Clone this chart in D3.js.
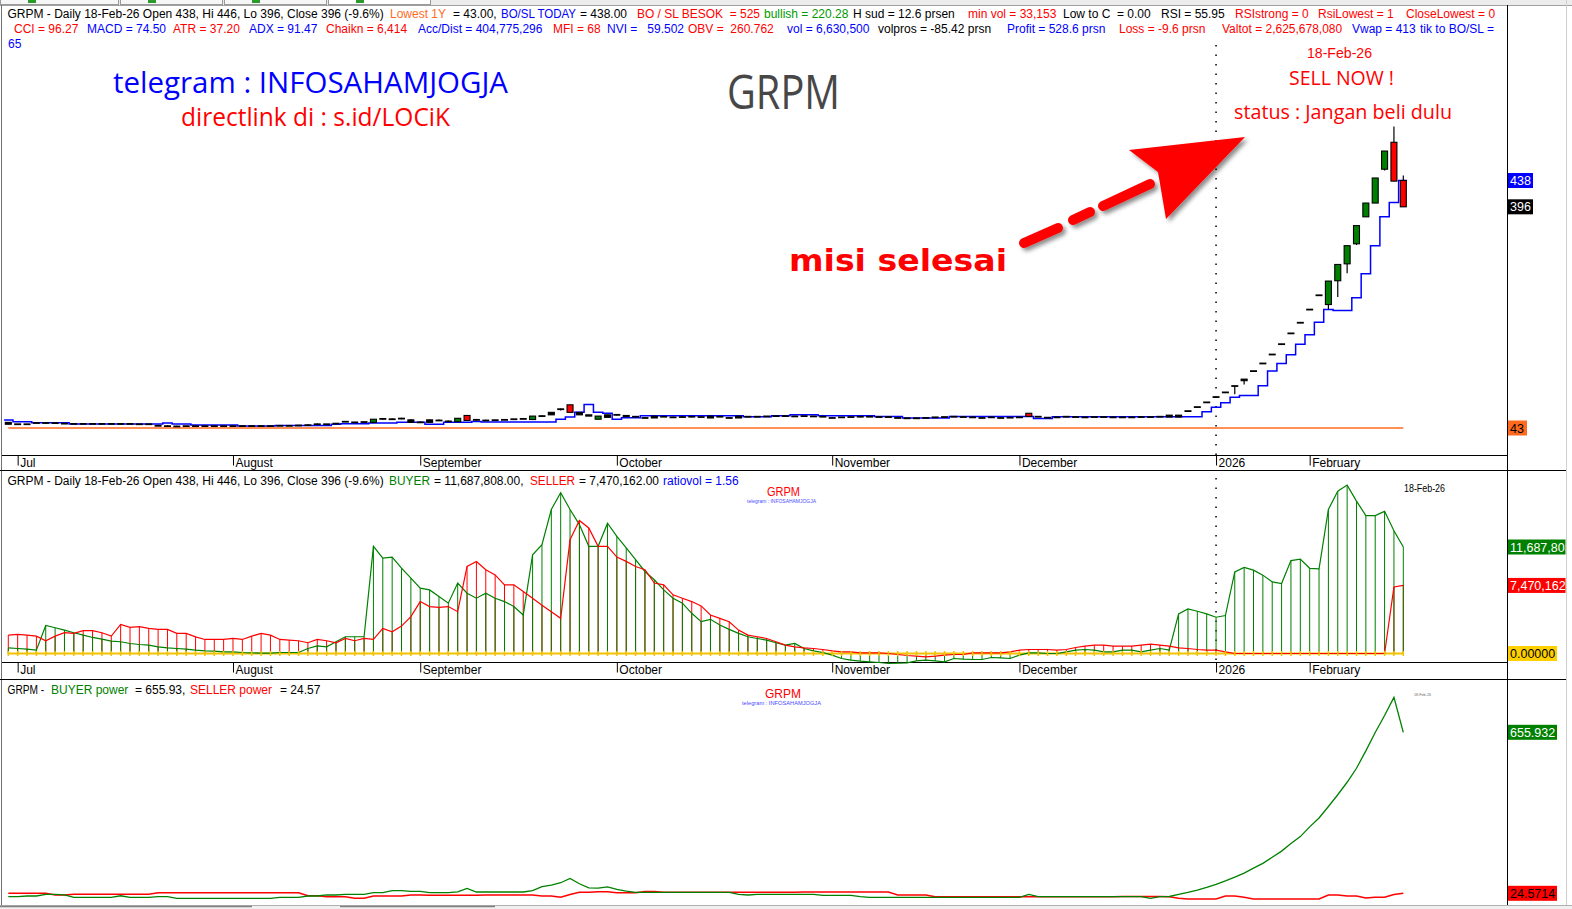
<!DOCTYPE html>
<html><head><meta charset="utf-8">
<script src="https://cdn.jsdelivr.net/npm/d3@7"></script>
<style>
body{margin:0;background:#fff;overflow:hidden}
svg{display:block;font-family:"Liberation Sans",Arial,sans-serif}
text{white-space:pre}
</style></head><body><svg id="c" width="1572" height="909"></svg>
<script>
// ---------- DATA ----------
const open=[52,49,49,51,51,51.5,50,49.5,49.5,49.5,
 49.5,49.5,49.5,49.5,49,49,48,47,46.5,46,
 46,46,46,46,46,46,46,46,46,46.5,
 46.5,47,49,49,49,50,53,52,52.5,52,
 57.5,57,58,56,52,52,55,55,53,63,
 56,55,55.5,57,57,57.5,56.5,62,64,73,
 80,68,64,57,60,64,63,61,60,59,
 62,61,62,61,60.5,59,62,60,59,61,
 61,61.5,62,62,62.5,62,61.5,61,60,60,
 60.5,61,61,60.5,60.5,60,59.5,59.5,59,60,
 60.5,61,60.5,60,60,60,60,59.5,59,66.5,
 61,60.5,60,61,61.5,61,60.5,60.5,61,60,
 60,60.5,60.5,61,63.5,60.5,70,76.4,83.9,92.4,
 99.8,110,121,133.8,146,160.3,176.8,194,211,232,
 254.8,240,278,305,337,380,402,456,499,438];
const close=[49,49,49,51,51,50.8,50,49.5,49.5,49.5,
 49.5,49.5,49.5,49.5,49,49,46.5,46,45.5,46,
 46,46,46,46,46,46,46,46,46,46.5,
 46.5,47,47.5,49,49,50,53,52,52.5,57,
 57.5,57,58,52,52,56,55,53.5,58.5,55,
 56,55,55.5,56,57,57.5,62,62,68,73,
 68,64,62,62,64,64,61,61,59,62,
 61,60,60.5,61,60.5,62,61,59,62,61,
 61,61.5,62,62,61.5,62,61.5,61,59,60,
 60.5,61,61,60.5,60.5,59,58.5,58.5,59,60,
 60.5,61,60.5,60,59,60,59,59.5,60,61.5,
 61,59.5,60,61,60.5,60,60.5,60.5,60,60,
 60,60.5,60.5,61,60.5,63.5,70,76.4,83.9,92.4,
 99.8,110,118.5,133.8,146,160.3,176.8,194,211,232,
 254.8,277.5,304,334,366,402,442,485,437,396];
const high=[52.5,49,49,51,52.5,52.5,50,49.5,49.5,49.5,
 49.5,49.5,51,49.5,49,49,48,47,46.5,46,
 46,46,46,46,46,46,46,46,46,46.5,
 46.5,47,49,50,49,50,53,52,52.5,57,
 59,58.5,59.5,57,53.5,56,56.5,55,58.5,63.5,
 57.5,56,55.5,57,57,57.5,62,63.5,68,74,
 80,68,64,62,64,65,63,61,60,62,
 62,61,62,62,60.5,62,62,60,62,61,
 61,61.5,63,63,62.5,62,61.5,61,60,60,
 60.5,62,61,60.5,60.5,60,59.5,59.5,59,60,
 60.5,61,60.5,60,60,60,60,59.5,60,66.5,
 61,60.5,60,61,61.5,61,60.5,60.5,61,60,
 60,60.5,60.5,61,63.5,63.5,70,76.4,83.9,92.4,
 99.8,110,121,133.8,146,160.3,176.8,194,211,232,
 254.8,277.5,304,334,366,402,442,485,524,446];
const low=[48.5,49,49,51,50.5,50,50,49.5,49.5,49.5,
 49.5,49.5,48.5,49.5,49,49,46.5,46,45.5,46,
 46,46,46,46,46,46,46,46,46,46.5,
 46.5,47,47.5,48,49,50,53,52,52.5,52,
 56,56.5,57,52,51,52,54,53.5,53,55,
 55,54,55.5,56,57,57.5,56.5,61,64,71,
 68,64,62,57,60,63,61,61,59,59,
 61,60,60.5,60,60.5,59,61,59,59,61,
 61,61.5,61,61,61.5,62,61.5,61,59,60,
 60.5,60,61,60.5,60.5,59,58.5,58.5,59,60,
 60.5,61,60.5,60,59,60,59,59.5,59,61.5,
 61,59.5,60,61,60.5,60,60.5,60.5,60,60,
 60,60.5,60.5,61,60.5,60.5,70,76.4,83.9,92.4,
 99.8,97,112.6,133.8,146,160.3,176.8,194,211,232,
 254.8,232,252,290,335,380,402,454,437,396];
const bosl=[55.7,53,53,51.4,51.4,51.4,51.4,49.4,49.4,49.4,
 49.4,49.4,49.4,49.4,49.4,49.4,49.4,51,49.4,49.4,
 47.8,47.8,47.8,47.8,47.8,46.2,46.2,46.2,46.2,47,
 47,47,47,47,47,48.8,49.7,49.7,49.7,51,
 51,51,52,52,52,49,49,52,52,52,
 53.5,52.5,52.5,52.5,52.5,52.5,52.5,52.5,52.5,56.8,
 60.5,68,80.7,68,66.4,56.8,59.4,59.4,62.6,62.6,
 62.6,62.6,62.6,62.6,62.6,62.6,62.6,62.6,62.6,61,
 61,61,62.6,62.6,64,64,64,62.6,62.6,62.6,
 62.6,62.6,62.6,61.2,61.2,61.2,59.1,59.1,59.1,59.1,
 59.1,61.2,61.2,61.2,61.2,61.2,61.2,61.2,61.2,61.2,
 58,58,61,61,61,61,61,61,61,61,
 61,61,61,61,61,61,61,61,69,76,
 83.3,91.9,95,95,110.4,133.8,146,160,176.8,192,
 211.8,232,230.4,230.4,251,289,334,380,403,438];
const lowest1Y=43;
// BUYER / SELLER volume, millions
const buyerVol=[0.62,0.55,0.48,0.37,3.08,2.83,2.57,2.28,2.02,1.76,
 1.58,1.36,1.29,1.10,0.99,0.92,0.73,0.62,0.55,0.48,
 0.37,0.29,0.26,0.18,0.18,0.11,0.07,0.04,0.04,0.11,
 0.11,0.11,0.55,0.84,0.73,1.29,1.84,1.84,1.84,11.76,
 10.47,10.58,9.37,8.27,7.17,6.98,6.25,5.52,7.73,6.62,
 6.07,6.62,6.07,5.70,5.15,4.23,10.84,11.94,15.80,17.64,
 15.8,14.15,11.76,11.76,14.3,12.86,11.58,10.29,9.00,8.09,
 6.98,6.07,5.52,4.41,3.49,3.75,3.12,2.65,2.21,1.84,
 1.65,1.47,1.18,0.92,1.10,0.55,0.29,0.11,-0.18,-0.55,
 -0.73,-0.84,-0.92,-0.99,-1.10,-1.07,-1.03,-0.81,-0.73,-0.81,
 -0.92,-0.55,-0.62,-0.66,-0.66,-0.44,-0.48,-0.55,-0.18,0.07,
 0.07,0,0,0.18,0.37,0.44,0.37,0.18,0.18,0.37,
 0.37,0.18,0.37,0.55,0.37,4.35,4.9,4.64,4.35,3.98,
 4.17,8.95,9.44,9.15,8.60,7.86,7.68,10.2,10.35,9.35,
 9.28,15.8,17.82,18.48,16.72,15.14,15.14,15.6,13.47,11.687808];
const sellerVol=[2.02,2.10,2.02,1.91,1.40,1.91,2.28,2.21,2.50,2.50,
 2.28,1.91,3.20,2.87,2.94,2.76,2.65,2.65,2.21,2.21,
 1.83,1.54,1.54,1.54,1.65,1.54,1.90,2.21,2.02,1.54,
 1.47,1.40,1.18,1.54,1.40,1.18,1.65,1.40,1.65,1.54,
 2.76,2.39,3.01,4.04,5.70,5.15,5.07,5.15,4.59,9.55,
 10.1,9.19,8.63,7.54,7.54,6.80,6.07,5.30,4.59,3.86,
 12.49,14.6,13.78,11.76,11.76,10.58,10.11,9.55,9.19,7.73,
 7.54,6.44,6.07,5.70,5.22,4.23,3.86,3.49,2.57,2.02,
 1.84,1.65,1.29,0.92,0.73,0.62,0.55,0.44,0.29,0.18,
 0.18,0.07,0.07,0.07,0,-0.11,-0.22,-0.29,-0.37,-0.29,
 -0.18,-0.11,-0.11,0.07,0.07,0.07,0.07,0.18,0.37,0.44,
 0.44,0.44,0.37,0.44,0.66,0.81,0.92,0.92,0.81,0.81,
 0.81,0.92,1.03,0.92,0.81,0.62,0.55,0.44,0.37,0.37,
 0.18,0,0,0,0,0,0,0,0,0,
 0,0,0,0,0,0,0,0,7.3,7.470162];
const buyerPower=[11.4,11.4,14,14,20.5,20.5,18,8.8,8.8,8.8,
 8.8,8.8,15,8.8,8.8,8.8,11.4,11.4,4.9,4.9,
 4.9,4.9,4.9,4.9,4.9,4.9,4.9,4.9,4.9,8.8,
 8.8,8.8,14,14,18,18,20.5,20.5,20.5,27,
 27,35,35,32,32,27,27,27,30,44,
 29.7,29.7,29.7,29.7,29.7,29.7,35,50.6,57,66,
 83,62,46,45,50,40,33,28.4,28.4,28.4,
 28.4,28.4,28.4,28.4,28.4,28.4,28.4,28.4,20,18,
 20,20.5,20.5,20.5,20.5,20.5,20.5,16.6,16.6,16.6,
 16.6,11.4,8.8,8.8,8.8,8.8,8.8,8.8,8.8,8.8,
 8.8,8.8,8.8,8.8,8.8,8.8,8.8,8.8,8.8,20.5,
 11.4,11.4,11.4,11.4,11.4,11.4,11.4,11.4,11.4,11.4,
 11.4,11.4,4.9,11.4,12,20,28,37,48,60,
 73,88,104,123,142,166,190,220,247,285,
 320,365,411,460,515,583,655,722,793,655.93];
const sellerPower=[24.4,24.4,24.4,24.4,24.4,18,18,20.5,20.5,20.5,
 20.5,20.5,20.5,20.5,20.5,20.5,27,27,27,27,
 27,27,27,27,27,27,27,27,27,27,
 27,27,15,15,11.4,11.4,11.4,4.9,4.9,14,
 14,14,14,18,18,16.6,16.6,16.6,16.6,16.6,
 16.6,18,18,18,18,18,18,14,14,8.8,
 20,28.4,28.4,31,31,27,27,27,32,32,
 28.4,28.4,28.4,28.4,28.4,28.4,28.4,28.4,28.4,28.4,
 28.4,28.4,28.4,28.4,28.4,29.7,29.7,29.7,29.7,29.7,
 29.7,29.7,29.7,29.7,29.7,18,18,18,18,11.4,
 11.4,11.4,11.4,11.4,11.4,11.4,11.4,11.4,11.4,11.4,
 11.4,11.4,11.4,11.4,11.4,11.4,11.4,11.4,11.4,12,
 12,12,12,12,11.4,5,2.2,2.2,2.2,2.2,
 14,14,8.8,2.2,2.2,2.2,2.2,2.2,2.2,2.2,
 2.2,18,18,14,14,6,8.8,8.8,20,24.5714];
const monthLabels=["Jul","August","September","October","November","December","2026","February"];
const monthStart=[1,24,44,65,88,108,129,139];
const yearStart=129;

// ---------- SETUP ----------
const RED="#ff0000",BLUE="#0000ff",GREEN="#008000",BLK="#000",ORANGE="#ff6a1f";
const svg=d3.select("#c");
svg.append("rect").attr("width",1572).attr("height",909).attr("fill","#fff");
const defs=svg.append("defs");
defs.append("clipPath").attr("id","clipR").append("rect").attr("x",1507).attr("y",0).attr("width",58.5).attr("height",909);
defs.append("clipPath").attr("id","clipP").append("rect").attr("x",2).attr("y",6).attr("width",1505).attr("height",449);
const f=defs.append("filter").attr("id","sh").attr("x","-20%").attr("y","-20%").attr("width","150%").attr("height","150%");
f.append("feDropShadow").attr("dx",3).attr("dy",3).attr("stdDeviation",2.2).attr("flood-color","#000").attr("flood-opacity",0.45);

const idx=d3.range(close.length);
const x=d3.scaleLinear().domain([0,149]).range([8.3,1403.3]);
const yP=d3.scaleLinear().domain([43,438]).range([428,180.5]);
const yV=d3.scaleLinear().domain([0,11.687808]).range([653.5,547]);
const yW=d3.scaleLinear().domain([24.5714,655.932]).range([893.3,732.3]);

// ---------- FRAME ----------
svg.append("rect").attr("x",0).attr("y",0).attr("width",1572).attr("height",5).attr("fill","#ececec");
[[0,118],[120,222],[224,326],[328,430]].forEach(([a,b],k)=>{
  svg.append("rect").attr("x",a+0.5).attr("y",-3).attr("width",b-a).attr("height",7.5).attr("fill",k==3?"#fff":"#f6f6f6").attr("stroke","#9a9a9a");
  svg.append("rect").attr("x",a+28).attr("y",0).attr("width",8).attr("height",3).attr("fill","#2a9a2a");
});
const hl=(x1,x2,y,c,w)=>svg.append("line").attr("x1",x1).attr("x2",x2).attr("y1",y).attr("y2",y).attr("stroke",c).attr("stroke-width",w||1);
const vl=(xx,y1,y2,c,w)=>svg.append("line").attr("x1",xx).attr("x2",xx).attr("y1",y1).attr("y2",y2).attr("stroke",c).attr("stroke-width",w||1);
hl(0,1572,5.5,"#a0a0a0");
vl(1.5,5,906,"#707070");
vl(1507.5,5,906,BLK);
vl(1566.5,0,909,"#cfcfcf");
hl(2,1507,455.5,BLK);
hl(0,1566,470.5,BLK,1.2);
hl(2,1507,662.5,BLK);
hl(0,1566,679.5,BLK,1.2);
hl(0,1572,905.5,"#b0b0b0");
svg.append("rect").attr("x",0).attr("y",906).attr("width",1572).attr("height",3).attr("fill","#f0f0f0");
hl(0,252,906.5,"#808080",1.5); hl(340,495,906.5,"#808080",1.5);

// ---------- DATE AXES ----------
function dateAxis(y0){
  const g=svg.append("g").attr("transform",`translate(0,${y0})`)
    .call(d3.axisBottom(x).tickValues(monthStart).tickFormat((d,i)=>monthLabels[i]).tickSize(10));
  g.select(".domain").remove();
  g.selectAll(".tick line").attr("stroke",BLK);
  g.selectAll(".tick text").attr("x",2).attr("y",2.5).attr("dy","0.71em").style("text-anchor","start")
    .attr("font-size",12).attr("font-family","Liberation Sans, Arial, sans-serif").attr("fill",BLK);
}
dateAxis(455.5);
dateAxis(662.5);

// dotted year line
const dot=(y1,y2)=>svg.append("line").attr("x1",x(yearStart)).attr("x2",x(yearStart)).attr("y1",y1).attr("y2",y2)
  .attr("stroke",BLK).attr("stroke-width",1.5).attr("stroke-dasharray","1.5,8");
dot(45,455); dot(478,662);

// ---------- PRICE PANEL ----------
const gP=svg.append("g").attr("clip-path","url(#clipP)");
gP.append("line").attr("x1",x(0)).attr("x2",x(149)).attr("y1",yP(lowest1Y)).attr("y2",yP(lowest1Y))
  .attr("stroke",ORANGE).attr("stroke-width",1.6);
const bpts=[[-0.45,bosl[0]]].concat(bosl.map((v,i)=>[i,v])).concat([[149.4,bosl[149]]]);
gP.append("path").attr("d",d3.line().x(d=>x(d[0])).y(d=>yP(d[1])).curve(d3.curveStep)(bpts))
  .attr("fill","none").attr("stroke",BLUE).attr("stroke-width",1.5);
const cg=gP.selectAll("g.c").data(idx).join("g");
cg.append("line").attr("x1",i=>x(i)).attr("x2",i=>x(i)).attr("y1",i=>yP(high[i])).attr("y2",i=>yP(low[i]))
  .attr("stroke",BLK).attr("stroke-width",1.2);
cg.each(function(i){
  const g=d3.select(this), cx=x(i), yo=yP(open[i]), yc=yP(close[i]);
  const h=Math.abs(yo-yc), top=Math.min(yo,yc);
  if(h<1.2){
    g.append("line").attr("x1",cx-3.5).attr("x2",cx+3.5).attr("y1",yc).attr("y2",yc).attr("stroke",BLK).attr("stroke-width",1.8);
  }else{
    g.append("rect").attr("x",cx-3).attr("y",top).attr("width",6).attr("height",h)
      .attr("fill",h<2.6?BLK:(close[i]>open[i]?GREEN:RED)).attr("stroke",BLK).attr("stroke-width",1.1);
  }
});

// ---------- VOLUME PANEL ----------
const gV=svg.append("g");
gV.selectAll("line.rs").data(idx).join("line").attr("x1",i=>x(i)).attr("x2",i=>x(i))
  .attr("y1",i=>yV(sellerVol[i])).attr("y2",yV(0)).attr("stroke",RED).attr("stroke-width",1);
gV.selectAll("line.gs").data(idx).join("line").attr("x1",i=>x(i)).attr("x2",i=>x(i))
  .attr("y1",i=>yV(buyerVol[i])).attr("y2",yV(0)).attr("stroke",GREEN).attr("stroke-width",1);
gV.append("line").attr("x1",x(0)).attr("x2",x(149)).attr("y1",yV(0)).attr("y2",yV(0)).attr("stroke","#f2c200").attr("stroke-width",2);
const vline=d3.line().x((d,i)=>x(i)).y(d=>yV(d));
gV.append("path").attr("d",vline(buyerVol)).attr("fill","none").attr("stroke",GREEN).attr("stroke-width",1.2);
gV.append("path").attr("d",vline(sellerVol)).attr("fill","none").attr("stroke",RED).attr("stroke-width",1.2);
gV.selectAll("line.yt").data(idx).join("line").attr("x1",i=>x(i)).attr("x2",i=>x(i))
  .attr("y1",yV(0)-2.5).attr("y2",yV(0)+2.5).attr("stroke","#f2c200").attr("stroke-width",1.5);

// ---------- POWER PANEL ----------
const wline=d3.line().x((d,i)=>x(i)).y(d=>yW(d));
svg.append("path").attr("d",wline(sellerPower)).attr("fill","none").attr("stroke",RED).attr("stroke-width",1.5);
svg.append("path").attr("d",wline(buyerPower)).attr("fill","none").attr("stroke",GREEN).attr("stroke-width",1.3);

// ---------- RIGHT AXIS LABELS ----------
const gR=svg.append("g").attr("clip-path","url(#clipR)");
[[yP(438),"438",BLUE,"#fff",25],[yP(396),"396",BLK,"#fff",25],[yP(lowest1Y),"43",ORANGE,BLK,19],
 [yV(11.687808),"11,687,808",GREEN,"#fff",60],[yV(7.470162),"7,470,162",RED,"#fff",60],[yV(0),"0.00000","#ffd000",BLK,49],
 [yW(655.932),"655.932",GREEN,"#fff",49],[yW(24.5714),"24.5714",RED,BLK,49]].forEach(([yy,t,bg,fc,w])=>{
  gR.append("rect").attr("x",1508).attr("y",yy-7.5).attr("width",w).attr("height",15).attr("fill",bg);
  gR.append("text").attr("x",1510).attr("y",yy+4.5).attr("font-size",12.5).attr("fill",fc).text(t);
});

// ---------- HEADER TEXTS ----------
function segs(arr,y,fs){
  arr.forEach(([t,c,x0],k)=>{
    const e=svg.append("text").attr("x",x0).attr("y",y).attr("fill",c).attr("font-size",fs||12).text(t);
    if(k<arr.length-1){
      const avail=arr[k+1][2]-x0-4, w=e.node().getComputedTextLength();
      if(w>avail) e.attr("textLength",avail).attr("lengthAdjust","spacingAndGlyphs");
    }
  });
}
segs([["GRPM - Daily 18-Feb-26 Open 438, Hi 446, Lo 396, Close 396 (-9.6%)",BLK,7.5],["Lowest 1Y",ORANGE,390],["= 43.00,",BLK,453],
 ["BO/SL TODAY",BLUE,501],["= 438.00",BLK,580],["BO / SL BESOK  = 525",RED,637],["bullish = 220.28","#009a00",764],
 ["H sud = 12.6 prsen",BLK,853],["min vol = 33,153",RED,968],["Low to C  = 0.00",BLK,1063],["RSI = 55.95",BLK,1161],
 ["RSIstrong = 0",RED,1235],["RsiLowest = 1",RED,1318],["CloseLowest = 0",RED,1406]],17.5);
segs([["CCI = 96.27",RED,14],["MACD = 74.50",BLUE,87],["ATR = 37.20",RED,173],["ADX = 91.47",BLUE,249],["Chaikn = 6,414",RED,326],
 ["Acc/Dist = 404,775,296",BLUE,418],["MFI = 68",RED,553],["NVI =   59.502",BLUE,607],["OBV =  260.762",RED,688],
 ["vol = 6,630,500",BLUE,787],["volpros = -85.42 prsn",BLK,878],["Profit = 528.6 prsn",BLUE,1007],["Loss = -9.6 prsn",RED,1119],
 ["Valtot = 2,625,678,080",RED,1222],["Vwap = 413",BLUE,1352],["tik to BO/SL =",BLUE,1420]],32.5);
segs([["65",BLUE,8]],47.5);
segs([["GRPM - Daily 18-Feb-26 Open 438, Hi 446, Lo 396, Close 396 (-9.6%)",BLK,7.5],["BUYER",GREEN,389],["= 11,687,808.00,",BLK,434],
 ["SELLER",RED,530],["= 7,470,162.00",BLK,579],["ratiovol = 1.56",BLUE,663]],484.5);
segs([["GRPM - ",BLK,7.5],["BUYER power",GREEN,51],["= 655.93,",BLK,135],["SELLER power",RED,190],["= 24.57",BLK,280]],693.5);

// ---------- ANNOTATIONS ----------
function txt(t,x0,y,fs,c,len,opts){
  const e=svg.append("text").attr("x",x0).attr("y",y).attr("font-size",fs).attr("fill",c).text(t);
  if(len) e.attr("textLength",len).attr("lengthAdjust","spacingAndGlyphs");
  if(opts&&opts.ff) e.attr("font-family",opts.ff);
  if(opts&&opts.fw) e.attr("font-weight",opts.fw);
  return e;
}
txt("telegram : INFOSAHAMJOGJA",113,93,29,BLUE,395,{ff:"Open Sans"});
txt("directlink di : s.id/LOCiK",181,125.5,26,RED,269,{ff:"Open Sans"});
txt("GRPM",727,109,48,"#474747",113,{ff:"Open Sans"});
txt("18-Feb-26",1307,58,14,RED,65);
txt("SELL NOW !",1289,85,20,RED,105,{ff:"Open Sans"});
txt("status : Jangan beli dulu",1234,119,20,RED,218,{ff:"Open Sans"});
txt("misi selesai",789,271,31,RED,218,{ff:"DejaVu Sans",fw:"bold"});
// arrow
const ga=svg.append("g").attr("filter","url(#sh)");
[[1024,243,1058,228],[1073,220,1090,212],[1103,206,1150,184]].forEach(([a,b,c,d])=>
  ga.append("line").attr("x1",a).attr("y1",b).attr("x2",c).attr("y2",d).attr("stroke",RED).attr("stroke-width",10).attr("stroke-linecap","round"));
ga.append("path").attr("d","M1245,137 L1129,150 L1158,172 L1166,219 Z").attr("fill",RED);
// small panel texts
txt("GRPM",767,496,12,RED,33);
txt("telegram : INFOSAHAMJOGJA",747,502.5,4.6,"#4a4aff",69);
txt("18-Feb-26",1404,492,10,BLK,41);
txt("GRPM",765,698,13,RED,36);
txt("telegram : INFOSAHAMJOGJA",742,705,4.6,"#4a4aff",79);
txt("18-Feb-26",1414,695.5,3.6,"#666",17);
</script></body></html>
